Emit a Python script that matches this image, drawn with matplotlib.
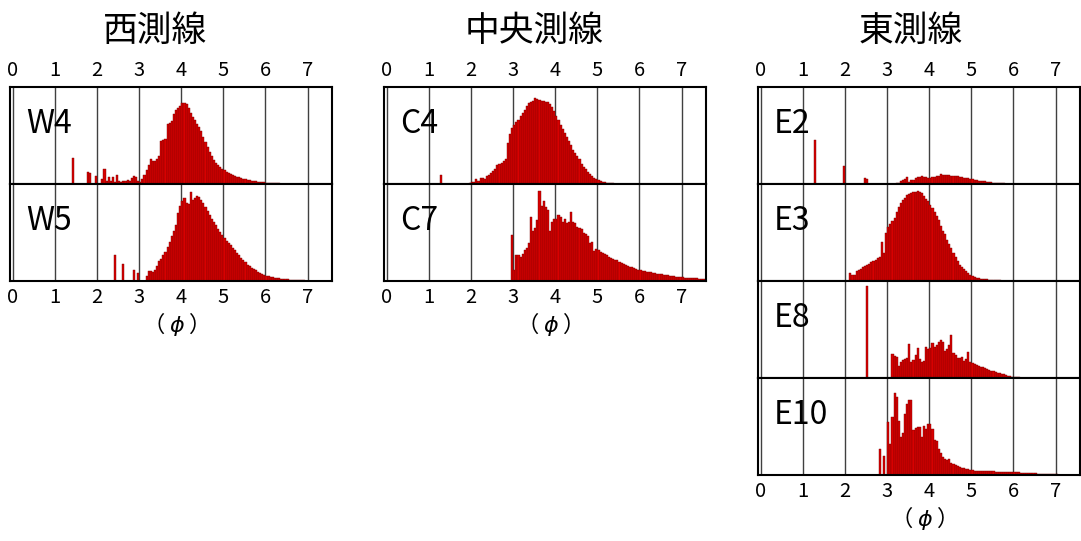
import numpy as np
import matplotlib.pyplot as plt

plt.rcParams['font.family'] = ['Noto Sans CJK JP', 'DejaVu Sans']
plt.rcParams['mathtext.fontset'] = 'dejavusans'

# phi class width of the histograms
BIN = 0.05

# ---- West line (西測線) ----
w4_start = 1.40
w4_freq = [27, 0, 0, 0, 0, 0, 0, 12, 11, 0, 0, 8, 0, 0, 5, 15, 3, 7, 3, 7,
           2, 9, 3, 2, 3, 3, 4, 3, 6, 8, 7, 3, 2, 5, 9, 14, 20, 26, 24, 24,
           26, 29, 44, 45, 46, 62, 63, 65, 72, 76, 78, 80, 84, 84, 82, 78, 73, 69, 66, 62,
           59, 55, 48, 43, 38, 33, 29, 25, 22, 20, 18, 15, 14, 12, 11, 10, 9, 8, 7.5, 7,
           6, 5.5, 5, 4.5, 4, 3.6, 3.2, 2.8, 2.5, 2.2, 2, 1.8, 1.5, 1.3, 1.1, 0.9,
           0.8, 0.7, 0.6, 0.5, 0.4, 0.3, 0.2]

w5_start = 2.40
w5_freq = [27, 0, 0, 0, 18, 0, 0, 0, 0, 11, 0, 8, 0, 0, 0, 5, 10, 10, 9, 11,
           15, 21, 23, 27, 30, 35, 40, 46, 52, 58, 70, 77, 82, 86, 80, 79, 92, 84, 86, 88,
           87, 84, 80, 76, 72, 68, 64, 61, 58, 54, 51, 47, 44, 41, 39, 37, 34, 32, 29, 27,
           24, 22, 20, 17, 15, 13, 12, 11, 9.5, 8.5, 7.5, 6.5, 5.5, 5, 4.3, 3.8, 3.3, 3, 2.7, 2.4,
           2.1, 1.9, 1.7, 1.5, 1.3, 1.2, 1.0, 0.9, 0.8, 0.7, 0.6, 0.5, 0.4]

# ---- Central line (中央測線) ----
c4_start = 1.25
c4_freq = [9, 0, 0, 0, 0, 0, 0, 0, 0, 0, 0, 0, 0, 0, 1.5, 2, 2.5, 5, 3, 6,
           6, 5, 8, 9, 11, 13, 15, 20, 21, 22, 24, 26, 42, 52, 58, 61, 64, 66, 70, 73,
           76, 80, 83, 85, 86, 89, 88, 87, 86, 86, 85, 85, 82, 79, 75, 70, 66, 61, 57, 53,
           48, 44, 40, 35, 32, 29, 26, 21, 18, 15, 12, 10, 8, 6.5, 5, 4, 3, 2.4, 2, 1.5,
           1.2, 1, 0.7, 0.5]

c7_start = 2.95
c7_freq = [47, 11, 27, 27, 25, 28, 32, 34, 39, 66, 52, 55, 63, 93, 77, 82, 76, 73, 52, 61,
           64, 64, 68, 66, 61, 64, 60, 61, 71, 61, 60, 56, 55, 54, 49, 48, 46, 39, 40, 31,
           33, 32, 30, 29, 28, 27, 25, 24, 23, 22, 22, 20, 19, 18, 16, 15, 14, 14, 13, 12,
           11, 11, 10, 10, 9.5, 9, 9, 8.5, 8, 7.5, 7.2, 7, 6.6, 6.2, 5.8, 5.4, 5, 4.8, 4.6, 4.3,
           4, 3.8, 3.6, 3.4, 3.2, 3.0, 3.0, 2.8, 2.6, 2.4, 2.2, 2.0, 1.8]

# ---- East line (東測線) ----
e2_start = 1.25
e2_freq = [45, 0, 0, 0, 0, 0, 0, 0, 0, 0, 0, 0, 0, 0, 19, 0, 0, 0, 0, 0,
           0, 0, 0, 0, 6.5, 5, 0, 0, 0, 0, 0, 0, 0, 0, 0, 0, 0, 0, 0, 1,
           1.5, 3, 4, 5, 7, 2, 4, 4, 6, 7, 7.5, 8, 7.5, 7, 6, 6.5, 7.5, 7.5, 8, 8.5,
           10, 9.5, 9, 9, 9, 8.5, 8.5, 8, 8, 7.5, 7, 6.5, 6.5, 6, 5.5, 5, 4.5, 4, 3.5, 3.2,
           3, 2.6, 2.3, 2, 1.7, 1.4, 1.2, 1, 0.8, 0.7, 0.6, 0.4]

e3_start = 2.10
e3_freq = [8, 6, 6, 10, 11, 12, 14, 15, 17, 18, 20, 21, 22, 24, 25, 40, 29, 50, 56, 59,
           62, 65, 71, 76, 80, 84, 86, 89, 90, 91, 92, 92, 93, 92, 91, 88, 85, 82, 78, 75,
           71, 67, 63, 57, 52, 48, 42, 38, 34, 29, 25, 21, 17, 14, 12, 10, 8, 6.5, 5, 4.2,
           3.5, 3, 2.5, 2.2, 2, 1.7, 1.5, 1.3, 1.1, 1, 0.8, 0.6, 0.5]

e8_start = 2.50
e8_freq = [95, 0, 0, 0, 0, 0, 0, 0, 0, 0, 0, 0, 25, 23, 22, 12, 17, 19, 20, 21,
           35, 17, 19, 24, 31, 20, 17, 18, 32, 30, 31, 36, 32, 34, 37, 39, 37, 28, 30, 34,
           44, 26, 24, 21, 21, 22, 18, 20, 27, 16, 15, 14, 13, 12, 11.5, 11, 10, 9, 8, 7.5,
           7, 6, 5.5, 5, 4.5, 4, 3, 2.5, 2, 1.5, 1.2, 1, 0.7, 0.5]

e10_start = 2.80
e10_freq = [27, 0, 20, 0, 55, 32, 60, 85, 80, 56, 39, 43, 63, 73, 77, 77, 46, 48, 49, 50,
            39, 51, 47, 53, 53, 47, 36, 35, 27, 23, 19, 17, 15, 17, 12, 11, 10, 9, 8, 7.5,
            7, 6.5, 6, 5.5, 5, 4.6, 4.4, 4.2, 4.1, 4, 3.9, 3.8, 3.8, 3.7, 3.7, 3.6, 3.5, 3.5, 3.4, 3.4,
            3.3, 3.2, 3.1, 3.0, 3.0, 2.8, 2.6, 2.5, 2.4, 2.2, 2.0, 1.9, 1.8, 1.7, 1.6, 1.5, 1.5, 1.4, 1.3, 1.2,
            1.1, 1.0, 1.0, 0.9, 0.8]

# column layout: (title, title x px, box left px, box right px, panels, label y px)
W, H = 1081, 541
columns = [
    ("西測線", 155, 10, 332, [("W4", w4_start, w4_freq), ("W5", w5_start, w5_freq)], 324),
    ("中央測線", 534, 384, 706, [("C4", c4_start, c4_freq), ("C7", c7_start, c7_freq)], 324),
    ("東測線", 911, 758, 1080, [("E2", e2_start, e2_freq), ("E3", e3_start, e3_freq),
                               ("E8", e8_start, e8_freq), ("E10", e10_start, e10_freq)], 518),
]
TOP = 87
PANEL_H = 97

fig = plt.figure(figsize=(W / 100, H / 100), dpi=100)

for title, tx, x0, x1, panels, label_y in columns:
    fig.text(tx / W, 1 - 31 / H, title, ha='center', va='center', fontsize=25)
    n = len(panels)
    for i, (name, start, freq) in enumerate(panels):
        top = TOP + i * PANEL_H
        ax = fig.add_axes([x0 / W, 1 - (top + PANEL_H) / H, (x1 - x0) / W, PANEL_H / H])
        freq = np.array(freq, dtype=float)
        phi = start + BIN * np.arange(len(freq))
        for g in range(8):
            ax.axvline(g, color='#404040', lw=1.0, zorder=1)
        ax.bar(phi, freq, width=BIN, align='edge', color='#d80000',
               edgecolor='#7a0000', linewidth=0.3, zorder=2)
        ax.set_xlim(-0.07, 7.58)
        ax.set_ylim(0, 100)
        ax.set_yticks([])
        ax.set_xticks(range(8))
        ax.tick_params(axis='x', length=0, labelsize=14.5,
                       labeltop=(i == 0), labelbottom=(i == n - 1), pad=4)
        for s in ax.spines.values():
            s.set_linewidth(1.5)
            s.set_color('black')
        ax.text(0.05, 0.62, name, transform=ax.transAxes, fontsize=23,
                ha='left', va='center', zorder=3)
    fig.text((x0 + x1) / 2 / W - 0.001, 1 - label_y / H, "（ $\\phi$ ）",
             ha='center', va='center', fontsize=16)

fig.savefig("out.png", dpi=100)
